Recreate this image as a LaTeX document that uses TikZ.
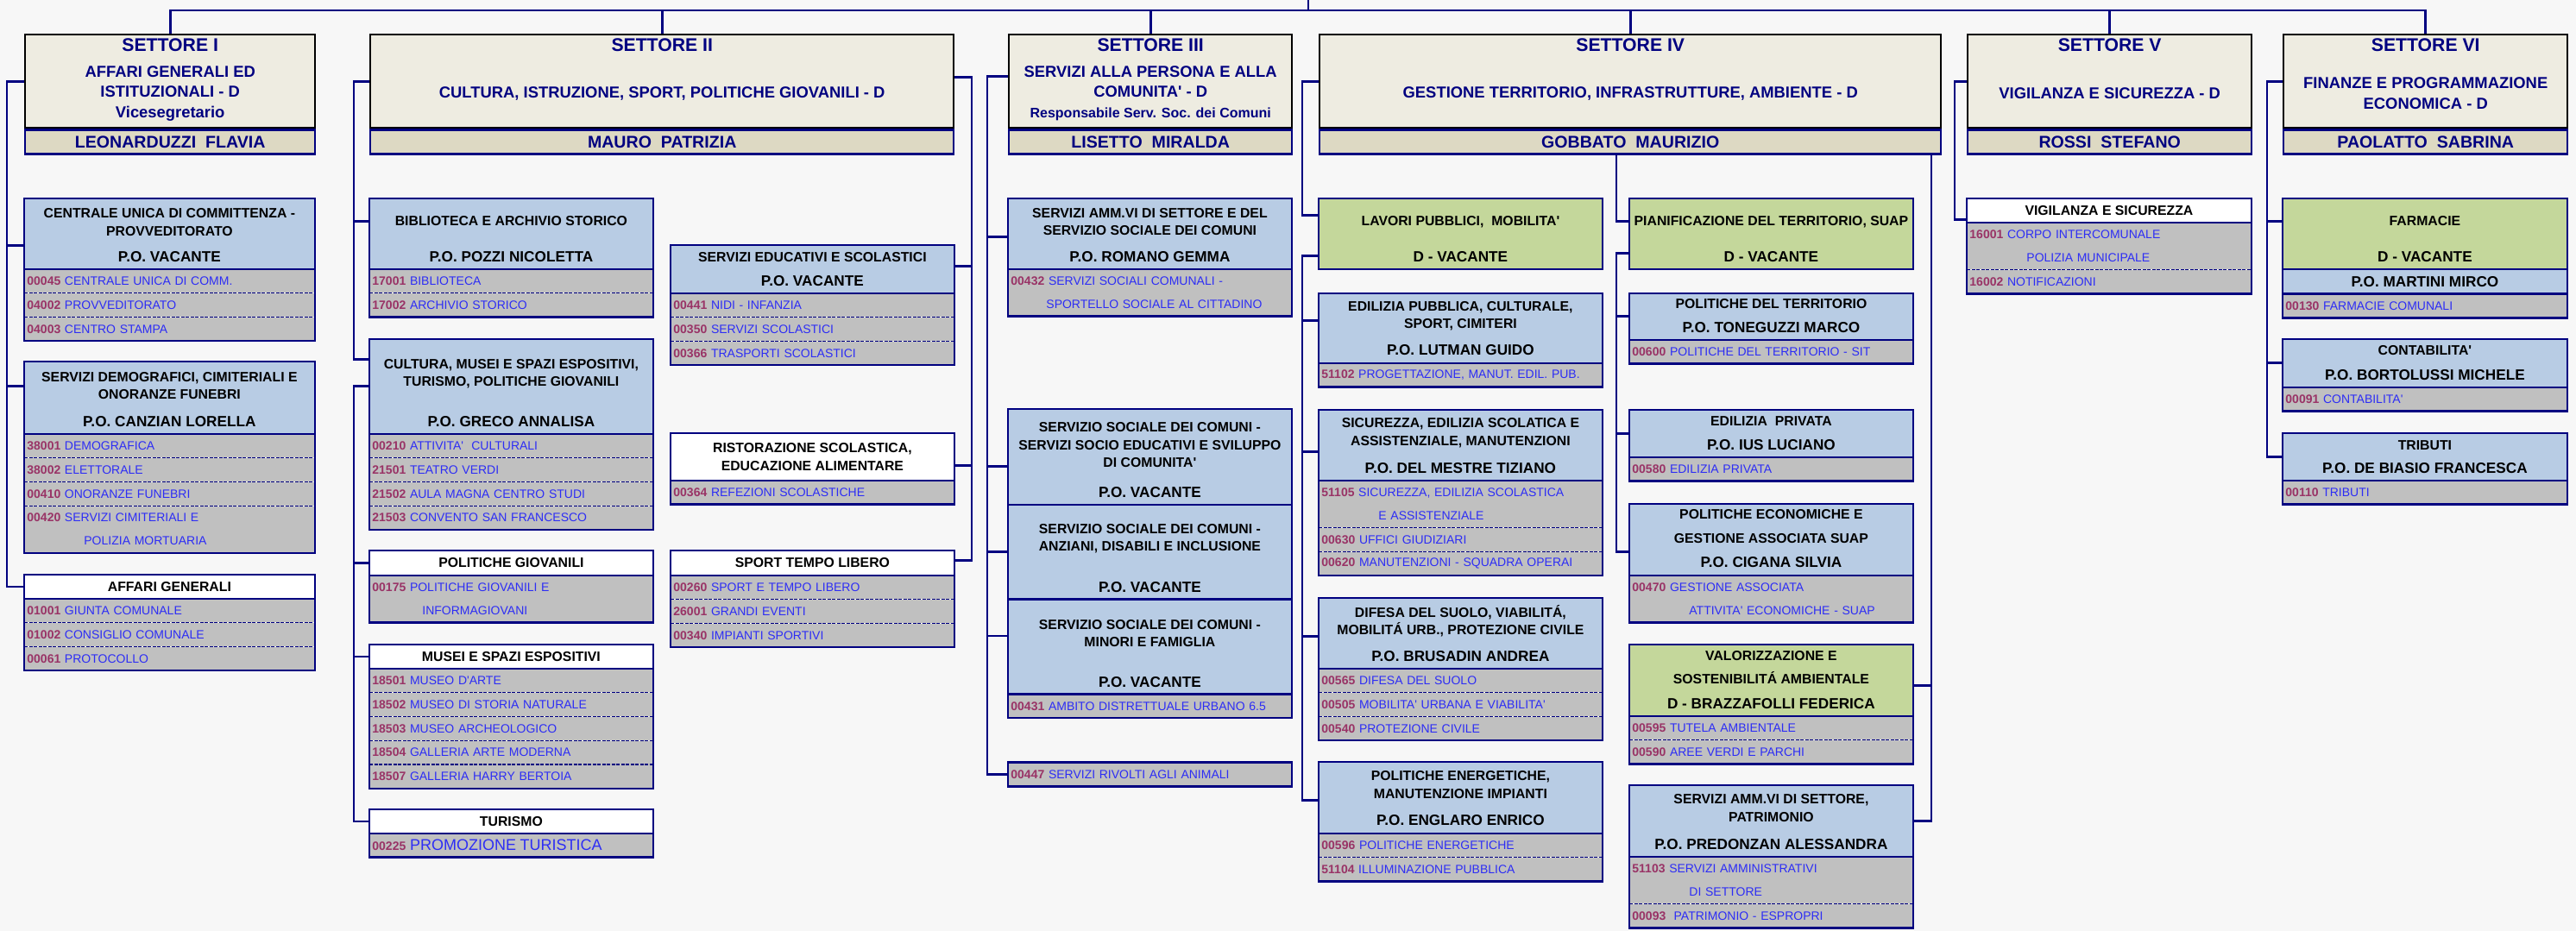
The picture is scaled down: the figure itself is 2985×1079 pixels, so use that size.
\documentclass[tikz,border=0pt]{standalone}
\usepackage{fontspec}
\setmainfont{Liberation Sans}[Ligatures=TeXOff]
\usepackage{xcolor}
\usepackage{tikz}
\usetikzlibrary{positioning}

\definecolor{navy}{RGB}{0,0,128}
\definecolor{cream}{RGB}{238,236,225}
\definecolor{beige}{RGB}{221,217,195}
\definecolor{ublue}{RGB}{184,204,228}
\definecolor{ugreen}{RGB}{196,215,155}
\definecolor{rowgray}{RGB}{192,192,192}
\definecolor{codered}{RGB}{153,51,102}
\definecolor{descblue}{RGB}{45,45,245}
\definecolor{bgcol}{RGB}{247,247,247}

\begin{document}
\begin{tikzpicture}[x=0.5pt, y=-0.5pt,
  wire/.style={draw=navy, line width=1.4pt},
  boxline/.style={draw=navy, line width=1.2pt},
  rowsep/.style={draw=navy, line width=0.6pt, dash pattern=on 2pt off 0.75pt},
  sector/.style={draw=black, line width=1.2pt, fill=cream, anchor=north west,
    inner sep=0pt, minimum width=#1, minimum height=54pt},
  chief/.style={draw=navy, line width=1.2pt, fill=beige, anchor=north west,
    inner sep=0pt, minimum width=#1, minimum height=14pt, text=navy,
    font=\fontsize{9.8}{11}\selectfont\bfseries},
  stitle/.style={inner sep=0pt, text=navy, font=\fontsize{10.6}{12}\selectfont\bfseries},
  sdesc/.style={inner sep=0pt, text=navy, align=center,
    font=\fontsize{9.2}{11.75}\selectfont\bfseries},
  unit/.style={fill=ublue, anchor=north west, inner sep=0pt, minimum width=#1,
    align=center, font=\fontsize{7.9}{10.25}\selectfont\bfseries},
  unit/.default=164pt,
  utitle/.style={inner sep=0pt, align=center, font=\fontsize{7.9}{10.25}\selectfont\bfseries},
  po/.style={inner sep=0pt, font=\fontsize{8.6}{10}\selectfont\bfseries},
  row/.style={fill=rowgray, anchor=north west, inner xsep=1.5pt, inner ysep=0pt,
    text width=#1, align=left, text=descblue, font=\fontsize{7}{13.5}\selectfont},
  row/.default=161pt]

\fill[bgcol] (0,0) rectangle (2985,1079);
\useasboundingbox (0,0) rectangle (2985,1079);

\foreach \i/\x/\w/\t/\d/\n in {
  1/28/168pt/I/{AFFARI GENERALI ED\\ISTITUZIONALI - D\\Vicesegretario}/LEONARDUZZI\ \ FLAVIA,
  2/428/338pt/II/{CULTURA, ISTRUZIONE, SPORT, POLITICHE GIOVANILI - D}/MAURO\ \ PATRIZIA,
  3/1168/164pt/III/{SERVIZI ALLA PERSONA E ALLA\\COMUNITA' - D\\{\fontsize{8}{10}\selectfont Responsabile Serv. Soc. dei Comuni}}/LISETTO\ \ MIRALDA,
  4/1528/360pt/IV/{GESTIONE TERRITORIO, INFRASTRUTTURE, AMBIENTE - D}/GOBBATO\ \ MAURIZIO,
  5/2279/164.5pt/V/{VIGILANZA E SICUREZZA - D}/ROSSI\ \ STEFANO,
  6/2645/164.5pt/VI/{FINANZE E PROGRAMMAZIONE\\ECONOMICA - D}/PAOLATTO\ \ SABRINA} {
  \node[sector=\w] (s\i) at (\x,39) {};
  \node[chief=\w] (n\i) at (s\i.south west) {\n};
  \node[stitle] (s\i-t) at ([yshift=-6.5pt]s\i.north) {SETTORE \t};
  \node[sdesc] (s\i-d) at ([yshift=-7pt]s\i.center) {\d};
}

\node[unit=168pt, minimum height=40.5pt, alias=cuc-0] (cuc) at (28,230) {};
\node[utitle] (cuc-t) at ([yshift=-13.75pt]cuc.north) {CENTRALE UNICA DI COMMITTENZA -\\PROVVEDITORATO};
\node[po] (cuc-p) at ([yshift=7pt]cuc.south) {P.O. VACANTE};

\node[unit=168pt, minimum height=41.5pt, alias=dem-0] (dem) at (28,419) {};
\node[utitle] (dem-t) at ([yshift=-14pt]dem.north) {SERVIZI DEMOGRAFICI, CIMITERIALI E\\ONORANZE FUNEBRI};
\node[po] (dem-p) at ([yshift=7pt]dem.south) {P.O. CANZIAN LORELLA};

\node[unit=168pt, fill=white, minimum height=13.5pt, alias=aff-0] (aff) at (28,666) {AFFARI GENERALI};

\node[unit, minimum height=40.5pt, alias=bib-0] (bib) at (428,230) {};
\node[utitle] (bib-t) at ([yshift=-13pt]bib.north) {BIBLIOTECA E ARCHIVIO STORICO};
\node[po] (bib-p) at ([yshift=7pt]bib.south) {P.O. POZZI NICOLETTA};

\node[unit, minimum height=54.5pt, alias=cul-0] (cul) at (428,393) {};
\node[utitle] (cul-t) at ([yshift=-20pt]cul.north) {CULTURA, MUSEI E SPAZI ESPOSITIVI,\\TURISMO, POLITICHE GIOVANILI};
\node[po] (cul-p) at ([yshift=7pt]cul.south) {P.O. GRECO ANNALISA};

\node[unit, fill=white, minimum height=14pt, alias=pgv-0] (pgv) at (428,638) {POLITICHE GIOVANILI};
\node[unit, fill=white, minimum height=13.5pt, alias=mus-0] (mus) at (428,747) {MUSEI E SPAZI ESPOSITIVI};
\node[unit, fill=white, minimum height=13.5pt, alias=tur-0] (tur) at (428,938) {TURISMO};

\node[unit, minimum height=27.5pt, alias=edu-0] (edu) at (777,284) {};
\node[utitle] (edu-t) at ([yshift=-7pt]edu.north) {SERVIZI EDUCATIVI E SCOLASTICI};
\node[po] (edu-p) at ([yshift=7pt]edu.south) {P.O. VACANTE};

\node[unit, fill=white, minimum height=27pt, alias=ris-0] (ris) at (777,502) {RISTORAZIONE SCOLASTICA,\\EDUCAZIONE ALIMENTARE};
\node[unit, fill=white, minimum height=14pt, alias=spo-0] (spo) at (777,638) {SPORT TEMPO LIBERO};

\node[unit, minimum height=40.5pt, alias=amm-0] (amm) at (1168,230) {};
\node[utitle] (amm-t) at ([yshift=-13.5pt]amm.north) {SERVIZI AMM.VI DI SETTORE E DEL\\SERVIZIO SOCIALE DEI COMUNI};
\node[po] (amm-p) at ([yshift=7pt]amm.south) {P.O. ROMANO GEMMA};

\node[unit, minimum height=55pt] (soc) at (1168,474) {};
\node[utitle] (soc-t) at ([yshift=-21pt]soc.north) {SERVIZIO SOCIALE DEI COMUNI -\\SERVIZI SOCIO EDUCATIVI E SVILUPPO\\DI COMUNITA'};
\node[po] (soc-p) at ([yshift=7pt]soc.south) {P.O. VACANTE};
\node[unit, minimum height=54.5pt] (soc2) at (soc.south west) {};
\node[utitle] (soc2-t) at ([yshift=-19.75pt]soc2.north) {SERVIZIO SOCIALE DEI COMUNI -\\ANZIANI, DISABILI E INCLUSIONE};
\node[po] (soc2-p) at ([yshift=7pt]soc2.south) {P.O. VACANTE};
\node[unit, minimum height=54.5pt, alias=soc-0] (soc3) at (soc2.south west) {};
\node[utitle] (soc3-t) at ([yshift=-19.75pt]soc3.north) {SERVIZIO SOCIALE DEI COMUNI -\\MINORI E FAMIGLIA};
\node[po] (soc3-p) at ([yshift=7pt]soc3.south) {P.O. VACANTE};

\node[anchor=north west, inner sep=0pt, minimum width=164pt, minimum height=0pt, alias=ani-0] (ani) at (1168,883) {};

\node[unit, fill=ugreen, minimum height=40.5pt] (lav) at (1528,230) {};
\node[utitle] (lav-t) at ([yshift=-13.5pt]lav.north) {LAVORI PUBBLICI,\ \ MOBILITA'};
\node[po] (lav-p) at ([yshift=7pt]lav.south) {D - VACANTE};

\node[unit, minimum height=40pt, alias=edp-0] (edp) at (1528,340) {};
\node[utitle] (edp-t) at ([yshift=-13pt]edp.north) {EDILIZIA PUBBLICA, CULTURALE,\\SPORT, CIMITERI};
\node[po] (edp-p) at ([yshift=7.5pt]edp.south) {P.O. LUTMAN GUIDO};

\node[unit, minimum height=40.5pt, alias=sic-0] (sic) at (1528,475) {};
\node[utitle] (sic-t) at ([yshift=-13.25pt]sic.north) {SICUREZZA, EDILIZIA SCOLATICA E\\ASSISTENZIALE, MANUTENZIONI};
\node[po] (sic-p) at ([yshift=7pt]sic.south) {P.O. DEL MESTRE TIZIANO};

\node[unit, minimum height=40.5pt, alias=dif-0] (dif) at (1528,693) {};
\node[utitle] (dif-t) at ([yshift=-13.25pt]dif.north) {DIFESA DEL SUOLO, VIABILITÁ,\\MOBILITÁ URB., PROTEZIONE CIVILE};
\node[po] (dif-p) at ([yshift=7pt]dif.south) {P.O. BRUSADIN ANDREA};

\node[unit, minimum height=41pt, alias=ene-0] (ene) at (1528,883) {};
\node[utitle] (ene-t) at ([yshift=-13.25pt]ene.north) {POLITICHE ENERGETICHE,\\MANUTENZIONE IMPIANTI};
\node[po] (ene-p) at ([yshift=7.5pt]ene.south) {P.O. ENGLARO ENRICO};

\node[unit, fill=ugreen, minimum height=40.5pt] (pia) at (1888,230) {};
\node[utitle] (pia-t) at ([yshift=-13.5pt]pia.north) {PIANIFICAZIONE DEL TERRITORIO, SUAP};
\node[po] (pia-p) at ([yshift=7pt]pia.south) {D - VACANTE};

\node[unit, minimum height=26.5pt, alias=pte-0] (pte) at (1888,340) {};
\node[utitle] (pte-t) at ([yshift=-6pt]pte.north) {POLITICHE DEL TERRITORIO};
\node[po] (pte-p) at ([yshift=7pt]pte.south) {P.O. TONEGUZZI MARCO};

\node[unit, minimum height=27pt, alias=epr-0] (epr) at (1888,475) {};
\node[utitle] (epr-t) at ([yshift=-6.5pt]epr.north) {EDILIZIA\ \ PRIVATA};
\node[po] (epr-p) at ([yshift=7pt]epr.south) {P.O. IUS LUCIANO};

\node[unit, minimum height=41pt, alias=pec-0] (pec) at (1888,584) {};
\node[utitle] (pec-t) at ([yshift=-13pt]pec.north) {POLITICHE ECONOMICHE E\\[3.75pt]GESTIONE ASSOCIATA SUAP};
\node[po] (pec-p) at ([yshift=7.5pt]pec.south) {P.O. CIGANA SILVIA};

\node[unit, fill=ugreen, minimum height=41pt, alias=val-0] (val) at (1888,747) {};
\node[utitle] (val-t) at ([yshift=-13.25pt]val.north) {VALORIZZAZIONE E\\[3.25pt]SOSTENIBILITÁ AMBIENTALE};
\node[po] (val-p) at ([yshift=7pt]val.south) {D - BRAZZAFOLLI FEDERICA};

\node[unit, minimum height=41pt, alias=pat-0] (pat) at (1888,910) {};
\node[utitle] (pat-t) at ([yshift=-13.25pt]pat.north) {SERVIZI AMM.VI DI SETTORE,\\PATRIMONIO};
\node[po] (pat-p) at ([yshift=7pt]pat.south) {P.O. PREDONZAN ALESSANDRA};

\node[unit=164.5pt, fill=white, minimum height=13.5pt, alias=vig-0] (vig) at (2279,230) {VIGILANZA E SICUREZZA};

\node[unit=164.5pt, fill=ugreen, minimum height=40.5pt] (far) at (2645,230) {};
\node[utitle] (far-t) at ([yshift=-13pt]far.north) {FARMACIE};
\node[po] (far-p) at ([yshift=7pt]far.south) {D - VACANTE};
\node[unit=164.5pt, minimum height=14pt, alias=far-0] (far-m) at (far.south west) {\fontsize{8.6}{10}\selectfont P.O. MARTINI MIRCO};

\node[unit=164.5pt, minimum height=27.5pt, alias=con-0] (con) at (2645,393) {};
\node[utitle] (con-t) at ([yshift=-6.5pt]con.north) {CONTABILITA'};
\node[po] (con-p) at ([yshift=7pt]con.south) {P.O. BORTOLUSSI MICHELE};

\node[unit=164.5pt, minimum height=27pt, alias=tri-0] (tri) at (2645,502) {};
\node[utitle] (tri-t) at ([yshift=-7pt]tri.north) {TRIBUTI};
\node[po] (tri-p) at ([yshift=7pt]tri.south) {P.O. DE BIASIO FRANCESCA};

\foreach \b/\w/\n/\rows in {
  cuc/165pt/3/{1/00045/CENTRALE UNICA DI COMM., 1/04002/PROVVEDITORATO, 1/04003/CENTRO STAMPA},
  dem/165pt/4/{1/38001/DEMOGRAFICA, 1/38002/ELETTORALE, 1/00410/ONORANZE FUNEBRI, 2/00420/{SERVIZI CIMITERIALI E\\\hspace*{33pt}POLIZIA MORTUARIA}},
  aff/165pt/3/{1/01001/GIUNTA COMUNALE, 1/01002/CONSIGLIO COMUNALE, 1/00061/PROTOCOLLO},
  bib/161pt/2/{1/17001/BIBLIOTECA, 1/17002/ARCHIVIO STORICO},
  cul/161pt/4/{1/00210/ATTIVITA'\ \ CULTURALI, 1/21501/TEATRO VERDI, 1/21502/AULA MAGNA CENTRO STUDI, 1/21503/CONVENTO SAN FRANCESCO},
  pgv/161pt/1/{2/00175/{POLITICHE GIOVANILI E\\\hspace*{29pt}INFORMAGIOVANI}},
  mus/161pt/5/{1/18501/MUSEO D'ARTE, 1/18502/MUSEO DI STORIA NATURALE, 1/18503/MUSEO ARCHEOLOGICO, 1/18504/GALLERIA ARTE MODERNA, 1/18507/GALLERIA HARRY BERTOIA},
  tur/161pt/1/{1/00225/{\fontsize{9}{10}\selectfont PROMOZIONE TURISTICA}},
  edu/161pt/3/{1/00441/NIDI - INFANZIA, 1/00350/SERVIZI SCOLASTICI, 1/00366/TRASPORTI SCOLASTICI},
  ris/161pt/1/{1/00364/REFEZIONI SCOLASTICHE},
  spo/161pt/3/{1/00260/SPORT E TEMPO LIBERO, 1/26001/GRANDI EVENTI, 1/00340/IMPIANTI SPORTIVI},
  amm/161pt/1/{2/00432/{SERVIZI SOCIALI COMUNALI -\\\hspace*{20.5pt}SPORTELLO SOCIALE AL CITTADINO}},
  soc/161pt/1/{1/00431/AMBITO DISTRETTUALE URBANO 6.5},
  ani/161pt/1/{1/00447/SERVIZI RIVOLTI AGLI ANIMALI},
  edp/161pt/1/{1/51102/{PROGETTAZIONE, MANUT. EDIL. PUB.}},
  sic/161pt/3/{2/51105/{SICUREZZA, EDILIZIA SCOLASTICA\\\hspace*{33pt}E ASSISTENZIALE}, 1/00630/UFFICI GIUDIZIARI, 1/00620/MANUTENZIONI - SQUADRA OPERAI},
  dif/161pt/3/{1/00565/DIFESA DEL SUOLO, 1/00505/MOBILITA' URBANA E VIABILITA', 1/00540/PROTEZIONE CIVILE},
  ene/161pt/2/{1/00596/POLITICHE ENERGETICHE, 1/51104/ILLUMINAZIONE PUBBLICA},
  pte/161pt/1/{1/00600/POLITICHE DEL TERRITORIO - SIT},
  epr/161pt/1/{1/00580/EDILIZIA PRIVATA},
  pec/161pt/1/{2/00470/{GESTIONE ASSOCIATA\\\hspace*{33pt}ATTIVITA' ECONOMICHE - SUAP}},
  val/161pt/2/{1/00595/TUTELA AMBIENTALE, 1/00590/AREE VERDI E PARCHI},
  pat/161pt/2/{2/51103/{SERVIZI AMMINISTRATIVI\\\hspace*{33pt}DI SETTORE}, 1/00093/{\ PATRIMONIO - ESPROPRI}},
  vig/161.5pt/2/{2/16001/{CORPO INTERCOMUNALE\\\hspace*{33pt}POLIZIA MUNICIPALE}, 1/16002/NOTIFICAZIONI},
  far/161.5pt/1/{1/00130/FARMACIE COMUNALI},
  con/161.5pt/1/{1/00091/CONTABILITA'},
  tri/161.5pt/1/{1/00110/TRIBUTI}} {
  \foreach \l/\c/\d [count=\i, remember=\i as \j (initially 0)] in \rows {
    \node[row=\w, minimum height=\l*13.5pt] (\b-\i) at (\b-\j.south west)
      {\textcolor{codered}{\bfseries\c}\ \d};
    \ifnum\i>1 \draw[rowsep] (\b-\i.north west) -- (\b-\i.north east); \fi
  }
  \draw[boxline] (\b.north west) rectangle (\b-\n.south east)
    (\b-0.south west) -- (\b-0.south east);
}

\draw[boxline] (lav.north west) rectangle (lav.south east)
  (pia.north west) rectangle (pia.south east)
  (soc2.north west) -- (soc2.north east)
  (soc3.north west) -- (soc3.north east)
  (far.south west) -- (far.south east);

\coordinate (top) at (1516,0);
\coordinate (bar) at (1516,12);
\coordinate (k1) at (8,0);
\coordinate (k2) at (410,0);
\coordinate (k2r) at (1126,0);
\coordinate (k3) at (1144,0);
\coordinate (k4) at (1509,0);
\coordinate (k4m) at (1873,0);
\coordinate (k4r) at (2238,0);
\coordinate (k5) at (2265,0);
\coordinate (k6) at (2627,0);

\foreach \i in {1,...,6}
  \draw[wire] (top) -- (bar) -| (s\i.north);

\foreach \c/\d in {cuc/-6.75, dem/6.75, aff/0}
  \draw[wire] (s1.west) -| ([yshift=\d pt]k1 |- \c.west) -- ([yshift=\d pt]\c.west);

\foreach \c/\d in {bib/7.25, cul/15.75}
  \draw[wire] (s2.west) -| ([yshift=\d pt]k2 |- \c.west) -- ([yshift=\d pt]\c.west);

\foreach \c in {pgv, mus, tur}
  \draw[wire] (cul.west) -| (k2 |- \c.west) -- (\c.west);

\foreach \c/\d in {edu/1.75, ris/-5, spo/1.5}
  \draw[wire] ([yshift=2.5pt]s2.east) -| ([yshift=\d pt]k2r |- \c.east) -- ([yshift=\d pt]\c.east);

\foreach \c/\d in {amm/-1.75, soc/-5.5, soc2/0, soc3/6.25, ani-1/0}
  \draw[wire] ([yshift=3pt]s3.west) -| ([yshift=\d pt]k3 |- \c.west) -- ([yshift=\d pt]\c.west);

\draw[wire] (s4.west) -| ([yshift=10.75pt]k4 |- lav.west) -- ([yshift=10.75pt]lav.west);

\foreach \c/\d in {edp/4.5, sic/-3.75, dif/-1.75, ene/-1.5}
  \draw[wire] ([yshift=-12.75pt]lav.west) -| ([yshift=\d pt]k4 |- \c.west) -- ([yshift=\d pt]\c.west);

\draw[wire] (n4.south -| k4m) |- ([yshift=7.25pt]pia.west);

\foreach \c/\d in {pte/0, epr/0, pec/-7}
  \draw[wire] ([yshift=-11.25pt]pia.west) -| ([yshift=\d pt]k4m |- \c.west) -- ([yshift=\d pt]\c.west);

\foreach \c/\d in {val/-3, pat/0}
  \draw[wire] (n4.south -| k4r) |- ([yshift=\d pt]\c.east);

\draw[wire] (s5.west) -| ([yshift=-5.25pt]k5 |- vig.west) -- ([yshift=-5.25pt]vig.west);

\foreach \c/\d in {far/7.25, con/0, tri/0}
  \draw[wire] (s6.west) -| ([yshift=\d pt]k6 |- \c.west) -- ([yshift=\d pt]\c.west);
\end{tikzpicture}
\end{document}
